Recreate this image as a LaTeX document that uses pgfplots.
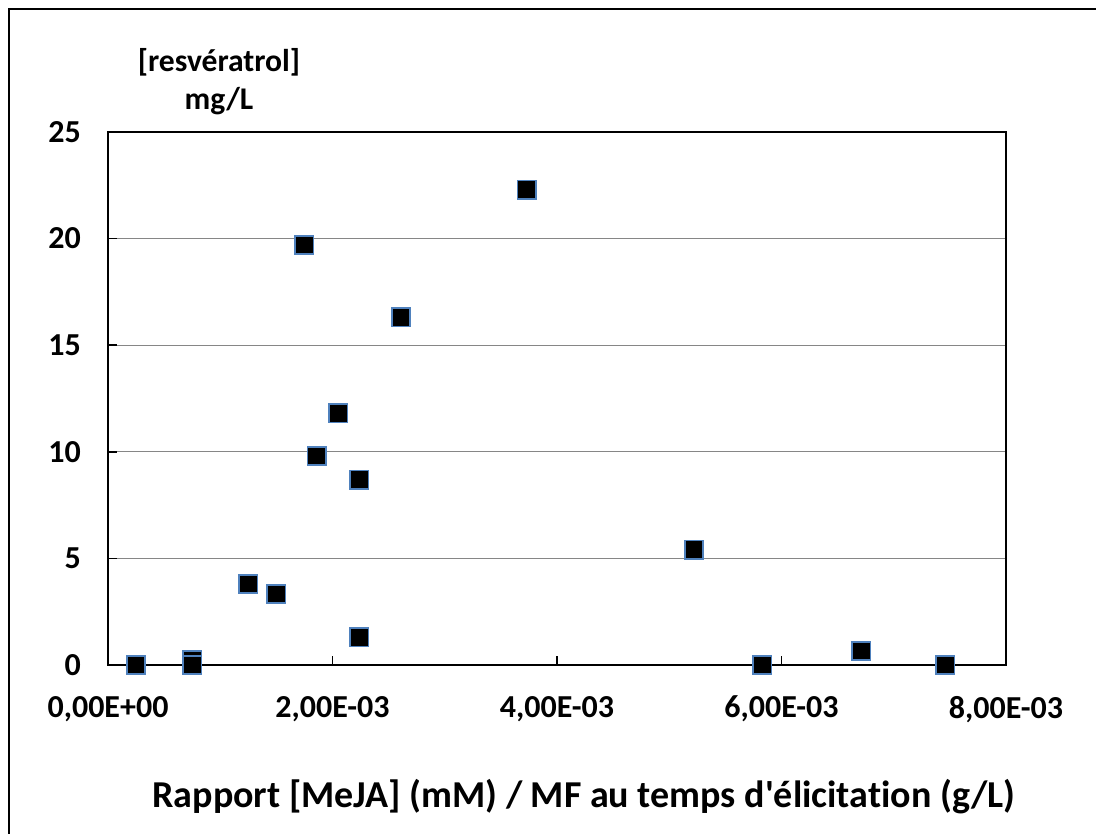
\documentclass[border=0pt]{standalone}
\usepackage{fontspec}
\setmainfont{Carlito}[Ligatures=CommonOff]
\usepackage{pgfplots}
\pgfplotsset{compat=1.18}
\definecolor{mkedge}{HTML}{4F81BD}
\definecolor{gridgray}{HTML}{868686}
\begin{document}
\begin{tikzpicture}
\useasboundingbox (-54pt,-84.5pt) rectangle (494pt,332.5pt);
\draw[line width=1pt] (-49.5pt,-84.5pt) -- (-49.5pt,328pt) -- (494pt,328pt);
\begin{axis}[
  at={(0pt,0pt)}, anchor=south west,
  width=449pt, height=266.5pt, scale only axis,
  xmin=0, xmax=8, ymin=0, ymax=25,
  xtick={0,2,4,6,8},
  xticklabels={{0,00E+00},{2,00E-03},{4,00E-03},{6,00E-03},{8,00E-03}},
  ytick={0,5,10,15,20,25},
  yticklabels={0,5,10,15,20,25},
  tick align=inside, major tick length=4.5pt,
  xtick pos=lower, ytick pos=left,
  tick style={black, line width=0.75pt},
  ymajorgrids, grid style={gridgray, line width=0.6pt},
  axis line style={black, line width=1pt},
  ticklabel style={font=\fontsize{16}{18.6}\selectfont\bfseries},
  yticklabel style={xshift=-10pt},
  xticklabel style={yshift=-12pt},
  clip=false,
]
\addplot[only marks, mark=square*, mark size=4.6pt,
  mark options={fill=black, draw=mkedge, line width=0.8pt}]
  coordinates {
  (0.25,0) (0.75,0.22) (0.75,0) (1.25,3.8) (1.50,3.33) (1.75,19.7)
  (1.86,9.8) (2.05,11.8) (2.24,8.7) (2.24,1.3) (2.61,16.3) (3.73,22.3)
  (5.22,5.4) (5.83,0) (6.71,0.66) (7.46,0)
  };
\node[align=center, font=\fontsize{15.8}{19}\selectfont\bfseries]
  at (rel axis cs:0.1236,1.094) {[resvératrol]\\mg/L};
\node[font=\fontsize{19}{22}\selectfont\bfseries]
  at (rel axis cs:0.530,-0.2477) {Rapport [MeJA] (mM) / MF au temps d\textquotesingle élicitation (g/L)};
\end{axis}
\end{tikzpicture}
\end{document}
